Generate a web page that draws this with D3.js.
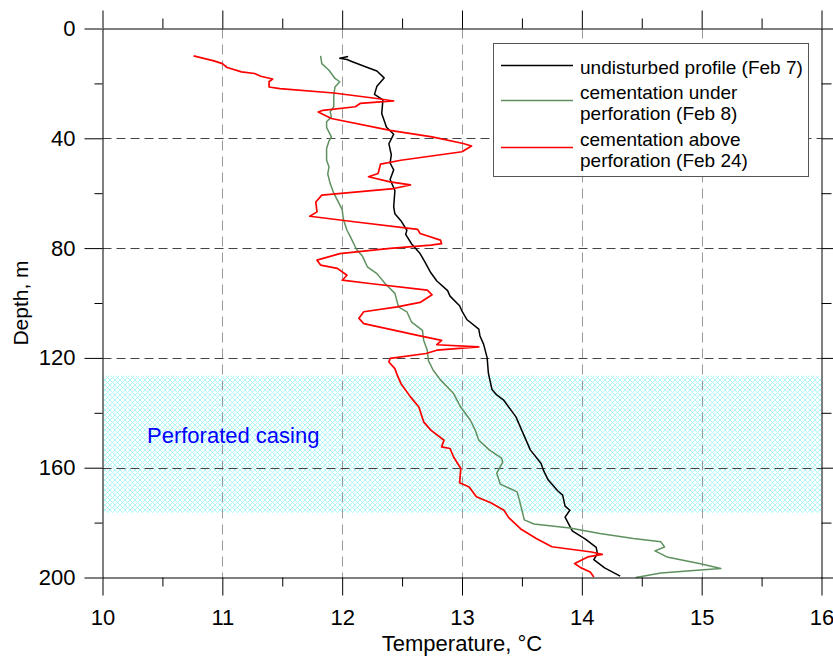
<!DOCTYPE html>
<html>
<head>
<meta charset="utf-8">
<script src="https://cdn.jsdelivr.net/npm/d3@7"></script>
<style>
  body { margin: 0; background: #fff; }
  text { font-family: Arial, "Liberation Sans", sans-serif; }
</style>
</head>
<body>
<svg id="chart" width="833" height="656"></svg>
<script>
// Data: [depth m, temperature °C]
const undisturbed = [
  [10.2, 12.05], [10.8, 11.98], [11.3, 12.04], [12, 12.08], [14, 12.2], [15.5, 12.29], [18, 12.35],
  [21, 12.29], [24, 12.27], [26, 12.34], [31, 12.33], [36, 12.37], [38.5, 12.43], [42, 12.39],
  [46, 12.41], [49, 12.40], [51.5, 12.43], [55, 12.40], [59, 12.44], [65, 12.43], [67.5, 12.44],
  [70, 12.49], [73.5, 12.54], [75, 12.53], [78.5, 12.58], [82, 12.65], [85, 12.69], [89, 12.74],
  [92, 12.79], [95.5, 12.88], [97.5, 12.90], [101, 12.98], [103, 13.0], [106, 13.04], [109.5, 13.14],
  [112, 13.15], [115, 13.18], [120, 13.21], [125.5, 13.22], [131.5, 13.25], [133.5, 13.29],
  [135.5, 13.35], [141.5, 13.45], [147.5, 13.51], [153.5, 13.57], [158.5, 13.66], [161, 13.68],
  [164.5, 13.72], [168.5, 13.80], [170, 13.84], [174, 13.86], [175.5, 13.90], [178, 13.86],
  [183, 13.92], [186, 14.03], [189, 14.12], [191.3, 14.13], [193.5, 14.10], [196.5, 14.19], [199.5, 14.32]
];

const underPerforation = [
  [10, 11.82], [12.8, 11.83], [15.2, 11.89], [18.2, 11.94], [19.4, 11.98], [21.3, 11.94], [24.3, 11.93],
  [28.5, 11.93], [30.4, 11.90], [32.2, 11.91], [34, 11.87], [36, 11.87], [39.5, 11.91], [41, 11.89],
  [43.7, 11.87], [48, 11.87], [50.4, 11.89], [53, 11.88], [56.5, 11.90], [60, 11.93], [62.5, 11.96],
  [66, 12.0], [69.5, 12.01], [73.5, 12.04], [76, 12.07], [80.5, 12.12], [83, 12.17], [86.8, 12.21],
  [89.3, 12.29], [93, 12.36], [96.5, 12.44], [101.4, 12.47], [103.2, 12.54], [107, 12.58], [110, 12.67],
  [113.6, 12.68], [117.2, 12.71], [121, 12.72], [124.5, 12.76], [128, 12.82], [133, 12.93], [138, 12.99],
  [142.7, 13.07], [146.3, 13.11], [150, 13.14], [153.6, 13.23], [156.5, 13.33], [158, 13.34],
  [162, 13.29], [166, 13.32], [168.8, 13.46], [172, 13.48], [175.5, 13.50], [179, 13.52], [180.5, 13.60],
  [182, 13.90], [184, 14.15], [185.8, 14.43], [187, 14.66], [188.9, 14.69], [190.3, 14.61],
  [192.5, 14.71], [195, 14.99], [196.7, 15.16], [197.3, 14.99], [198.4, 14.66], [200, 14.45]
];

const abovePerforation = [
  [10, 10.76], [11.8, 10.93], [12.8, 11.0], [14.2, 11.04], [15.8, 11.16], [16.4, 11.27], [17.4, 11.32],
  [18.4, 11.42], [19.4, 11.39], [21.3, 11.39], [21.9, 11.48], [23.5, 11.93], [25.5, 12.29], [26.4, 12.43],
  [27.3, 12.15], [28.5, 12.11], [29.8, 11.84], [30.4, 11.80], [32.8, 11.91], [37.1, 12.40], [39.5, 12.75],
  [41.9, 13.01], [42.8, 13.08], [44.9, 13.0], [48, 12.49], [49.4, 12.32], [52.8, 12.30], [54, 12.22],
  [55.9, 12.40], [57, 12.57], [58.3, 12.43], [60.7, 11.83], [63.2, 11.78], [66.8, 11.79], [68.4, 11.73],
  [70.4, 12.10], [73.2, 12.63], [74.7, 12.65], [77.1, 12.82], [78.4, 12.83], [78.9, 12.74], [80.1, 12.40],
  [82, 11.98], [84.4, 11.79], [86.2, 11.82], [87.4, 11.96], [89.9, 12.04], [91.7, 12.0], [92.9, 12.23],
  [95.3, 12.71], [97, 12.75], [99.8, 12.65], [101.4, 12.46], [103.2, 12.18], [105.6, 12.14], [107.5, 12.18],
  [109.9, 12.43], [111.7, 12.62], [113.6, 12.83], [115.2, 12.79], [116, 13.14], [117.2, 12.79],
  [118.4, 12.70], [120.2, 12.40], [121.5, 12.39], [123.9, 12.44], [126.3, 12.46], [129.3, 12.49],
  [134.2, 12.57], [137.9, 12.64], [143.3, 12.68], [146.3, 12.74], [150, 12.85], [152.4, 12.83],
  [153, 12.90], [156.1, 12.93], [160.3, 12.99], [165.5, 12.98], [167, 13.06], [170.6, 13.12],
  [172.8, 13.24], [175.5, 13.35], [178.2, 13.39], [182.3, 13.49], [185.8, 13.62], [188.8, 13.75],
  [190.7, 14.08], [191.6, 14.17], [192.5, 14.05], [194.9, 13.94], [196.4, 13.99], [198, 14.07], [199.8, 14.10]
];

const tempTicks = [10, 11, 12, 13, 14, 15, 16];
const tempMinor = [10.5, 11.5, 12.5, 13.5, 14.5, 15.5];
const depthTicks = [0, 40, 80, 120, 160, 200];
const depthMinor = [20, 60, 100, 140, 180];
const tempGrid = [11, 12, 13, 14, 15];
const depthGrid = [40, 80, 120, 160];
const casing = [126.5, 176.5];

const series = [
  { name: ["undisturbed profile (Feb 7)"], data: undisturbed, color: "#000000", width: 1.5 },
  { name: ["cementation under", "perforation (Feb 8)"], data: underPerforation, color: "#5f9160", width: 1.5 },
  { name: ["cementation above", "perforation (Feb 24)"], data: abovePerforation, color: "#ff0000", width: 1.7 }
];

const svg = d3.select("#chart");
const x = d3.scaleLinear().domain([10, 16]).range([102.5, 821.5]);
const y = d3.scaleLinear().domain([0, 200]).range([28.5, 577.5]);

// hatch pattern for the perforated casing
const defs = svg.append("defs");
const pat = defs.append("pattern")
  .attr("id", "hatch")
  .attr("patternUnits", "userSpaceOnUse")
  .attr("width", 5).attr("height", 5);
pat.append("path").attr("d", "M0,0L5,5M5,0L0,5M-1,4L1,6M4,-1L6,1M4,6L6,4M-1,1L1,-1")
  .attr("stroke", "#a8f6f6").attr("stroke-width", 0.9).attr("fill", "none");

svg.append("rect")
  .attr("x", x(10) + 1).attr("y", y(casing[0]))
  .attr("width", x(16) - x(10) - 1).attr("height", y(casing[1]) - y(casing[0]))
  .attr("fill", "url(#hatch)");

// grid
svg.append("g").selectAll("line").data(tempGrid).join("line")
  .attr("x1", d => Math.round(x(d)) + 0.5).attr("x2", d => Math.round(x(d)) + 0.5)
  .attr("y1", y(0)).attr("y2", y(200))
  .attr("stroke", "#9a9a9a").attr("stroke-dasharray", "10,6");
svg.append("g").selectAll("line").data(depthGrid).join("line")
  .attr("y1", d => Math.round(y(d)) + 0.5).attr("y2", d => Math.round(y(d)) + 0.5)
  .attr("x1", x(10)).attr("x2", x(16))
  .attr("stroke", "#444").attr("stroke-dasharray", "9,5");

svg.append("text")
  .attr("x", 147).attr("y", 443)
  .attr("fill", "#0000ff").attr("font-size", 22)
  .text("Perforated casing");

// curves
const line = d3.line().x(d => x(d[1])).y(d => y(d[0]));
svg.append("g").selectAll("path").data(series).join("path")
  .attr("d", d => line(d.data))
  .attr("fill", "none")
  .attr("stroke", d => d.color)
  .attr("stroke-width", d => d.width)
  .attr("stroke-linejoin", "round");

// axes
function styleAxis(g) {
  g.attr("font-size", 22).attr("font-family", "Arial, 'Liberation Sans', sans-serif");
  g.selectAll("text").attr("fill", "#000");
  g.selectAll("line, path").attr("stroke", "#000");
}

svg.append("g").attr("transform", `translate(${x(10)},0)`)
  .call(d3.axisLeft(y).tickValues(depthTicks).tickSize(18).tickPadding(9).tickSizeOuter(0).tickFormat(d3.format("d")))
  .call(styleAxis);
svg.append("g").attr("transform", `translate(${x(10)},0)`)
  .call(d3.axisLeft(y).tickValues(depthMinor).tickSize(8).tickFormat(""))
  .call(g => g.select(".domain").remove()).call(styleAxis);

svg.append("g").attr("transform", `translate(${x(16)},0)`)
  .call(d3.axisRight(y).tickValues(depthTicks).tickSize(12).tickFormat("").tickSizeOuter(0))
  .call(styleAxis);
svg.append("g").attr("transform", `translate(${x(16)},0)`)
  .call(d3.axisRight(y).tickValues(depthMinor).tickSize(10).tickFormat(""))
  .call(g => g.select(".domain").remove()).call(styleAxis);

svg.append("g").attr("transform", `translate(0,${y(0)})`)
  .call(d3.axisTop(x).tickValues(tempTicks).tickSize(18).tickFormat("").tickSizeOuter(0))
  .call(styleAxis);
svg.append("g").attr("transform", `translate(0,${y(0)})`)
  .call(d3.axisTop(x).tickValues(tempMinor).tickSize(10).tickFormat(""))
  .call(g => g.select(".domain").remove()).call(styleAxis);

svg.append("g").attr("transform", `translate(0,${y(200)})`)
  .call(d3.axisBottom(x).tickValues(tempTicks).tickSize(18).tickPadding(14).tickSizeOuter(0).tickFormat(d3.format("d")))
  .call(styleAxis);
svg.append("g").attr("transform", `translate(0,${y(200)})`)
  .call(d3.axisBottom(x).tickValues(tempMinor).tickSize(9).tickFormat(""))
  .call(g => g.select(".domain").remove()).call(styleAxis);

// axis titles
svg.append("text")
  .attr("x", (x(10) + x(16)) / 2).attr("y", 651)
  .attr("text-anchor", "middle").attr("font-size", 22)
  .text("Temperature, °C");
svg.append("text")
  .attr("transform", `translate(28,${(y(0) + y(200)) / 2}) rotate(-90)`)
  .attr("text-anchor", "middle").attr("font-size", 21)
  .text("Depth, m");

// legend
const legend = svg.append("g");
legend.append("rect")
  .attr("x", 493.5).attr("y", 43.5).attr("width", 315).attr("height", 133)
  .attr("fill", "#fff").attr("stroke", "#555");
const legendRows = [
  { sampleY: 65.5, baselines: [74] },
  { sampleY: 100.5, baselines: [98.5, 119.5] },
  { sampleY: 147.5, baselines: [145.5, 166.5] }
];
series.forEach((s, i) => {
  const row = legendRows[i];
  legend.append("line")
    .attr("x1", 501).attr("x2", 573)
    .attr("y1", row.sampleY).attr("y2", row.sampleY)
    .attr("stroke", s.color).attr("stroke-width", s.width);
  s.name.forEach((t, j) => {
    legend.append("text")
      .attr("x", 580).attr("y", row.baselines[j])
      .attr("font-size", 19)
      .text(t);
  });
});
</script>
</body>
</html>
